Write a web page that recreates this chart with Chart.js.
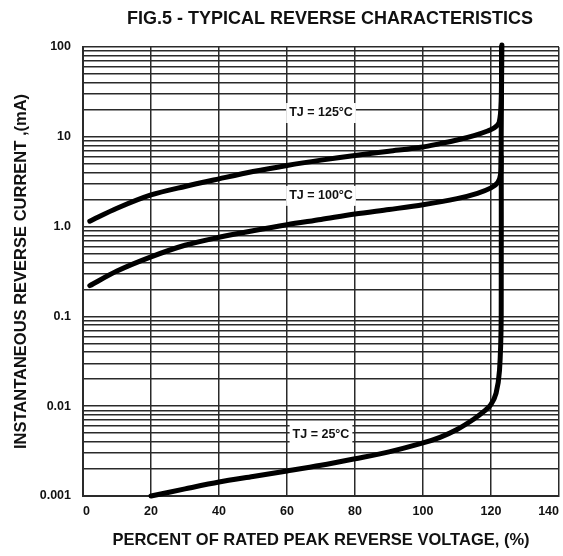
<!DOCTYPE html>
<html>
<head>
<meta charset="utf-8">
<script src="https://cdn.jsdelivr.net/npm/chart.js@4"></script>
<style>
  html, body { margin: 0; padding: 0; background: #fff; }
  #wrap { width: 563px; height: 556px; }
</style>
</head>
<body>
<div id="wrap"><canvas id="myChart" width="563" height="556"></canvas></div>
<script>
// percent of rated peak reverse voltage vs current (mA)
const t125X = [2, 10, 20, 30, 40, 50, 60, 70, 80, 90, 100, 105, 110, 115, 119, 121, 122.4, 123, 123.1];
const t125Y = [1.15, 1.6, 2.25, 2.8, 3.4, 4.1, 4.8, 5.5, 6.2, 6.9, 7.7, 8.4, 9.2, 10.3, 11.6, 12.6, 14.5, 25, 100];

const t100X = [2, 10, 20, 30, 40, 50, 60, 70, 80, 90, 100, 110, 116, 120, 122, 122.8, 123];
const t100Y = [0.22, 0.32, 0.46, 0.62, 0.76, 0.9, 1.05, 1.2, 1.38, 1.55, 1.75, 2.05, 2.35, 2.7, 3.1, 3.8, 6];

const t25X = [20, 30, 40, 50, 60, 70, 80, 90, 100, 105, 110, 115, 118, 120, 121.5, 122.5, 123, 123, 123.2];
const t25Y = [0.001, 0.0012, 0.00143, 0.00165, 0.0019, 0.0022, 0.0026, 0.0031, 0.0039, 0.0045, 0.0055, 0.0072, 0.0088, 0.0105, 0.014, 0.025, 0.1, 10, 105];

const seriesNames = ['TJ = 125°C', 'TJ = 100°C', 'TJ = 25°C'];
// where each curve label sits (data coords)
const labelX = [70, 70, 70];
const labelY = [18.4, 2.2, 0.0048];

const xTicks = [0, 20, 40, 60, 80, 100, 120, 140];
const yTickValues = [0.001, 0.01, 0.1, 1, 10, 100];
const yTickLabels = ['0.001', '0.01', '0.1', '1.0', '10', '100'];

function toPoints(xs, ys) {
    return xs.map((x, i) => ({ x: x, y: ys[i] }));
}

// minor log grid: 1..9 in every decade
const yGrid = [];
for (let d = -3; d < 2; d++) {
    for (let k = 1; k < 10; k++) {
        yGrid.push(Number((k * Math.pow(10, d)).toPrecision(3)));
    }
}
yGrid.push(100);

const FONT = '"Liberation Sans", Arial, sans-serif';

const titlePlugin = {
    id: 'figTitle',
    afterDraw(chart) {
        const ctx = chart.ctx;
        ctx.save();
        ctx.fillStyle = '#111';
        ctx.font = 'bold 18px ' + FONT;
        ctx.textAlign = 'center';
        ctx.textBaseline = 'middle';
        ctx.fillText('FIG.5 - TYPICAL REVERSE CHARACTERISTICS', 330, 19);
        ctx.restore();
    }
};

const curveLabels = {
    id: 'curveLabels',
    afterDatasetsDraw(chart) {
        const ctx = chart.ctx;
        const xs = chart.scales.x, ys = chart.scales.y;
        ctx.save();
        ctx.font = 'bold 12.5px ' + FONT;
        ctx.textAlign = 'center';
        ctx.textBaseline = 'middle';
        seriesNames.forEach((name, i) => {
            const px = xs.getPixelForValue(labelX[i]);
            const py = ys.getPixelForValue(labelY[i]);
            const w = ctx.measureText(name).width + 6;
            ctx.fillStyle = '#fff';
            ctx.fillRect(px - w / 2, py - 10, w, 20);
            ctx.fillStyle = '#111';
            ctx.fillText(name, px, py);
        });
        ctx.restore();
    }
};

const ctx = document.getElementById('myChart');

const lineStyle = {
    borderColor: '#000',
    borderWidth: 5,
    pointRadius: 0,
    tension: 0.3,
    borderCapStyle: 'round',
    fill: false,
    clip: false
};

new Chart(ctx, {
    type: 'line',
    data: {
        datasets: [
            Object.assign({ label: seriesNames[0], data: toPoints(t125X, t125Y) }, lineStyle),
            Object.assign({ label: seriesNames[1], data: toPoints(t100X, t100Y) }, lineStyle),
            Object.assign({ label: seriesNames[2], data: toPoints(t25X, t25Y) }, lineStyle)
        ]
    },
    plugins: [titlePlugin, curveLabels],
    options: {
        responsive: false,
        animation: false,
        layout: { padding: { top: 47, right: 4, left: 0, bottom: 0 } },
        plugins: {
            legend: { display: false },
            tooltip: { enabled: false }
        },
        scales: {
            x: {
                type: 'linear',
                min: 0,
                max: 140,
                afterBuildTicks: (scale) => { scale.ticks = xTicks.map(v => ({ value: v })); },
                afterFit: (scale) => {
                    scale.height = 60;
                    scale.paddingLeft = 0;
                    scale.paddingRight = 0;
                },
                ticks: {
                    color: '#111',
                    padding: 8,
                    align: 'inner',
                    font: { family: FONT, size: 12.5, weight: 'bold' },
                    maxRotation: 0
                },
                grid: { color: '#2a2a2a', lineWidth: 1.5, drawTicks: false },
                border: { color: '#2a2a2a', width: 2 },
                title: {
                    display: true,
                    text: 'PERCENT OF RATED PEAK REVERSE VOLTAGE, (%)',
                    color: '#111',
                    font: { family: FONT, size: 16.5, weight: 'bold' },
                    padding: { top: 4, bottom: 6 }
                }
            },
            y: {
                type: 'logarithmic',
                min: 0.001,
                max: 100,
                afterBuildTicks: (scale) => { scale.ticks = yGrid.map(v => ({ value: v })); },
                afterFit: (scale) => {
                    scale.width = 83;
                    scale.paddingTop = 0;
                    scale.paddingBottom = 0;
                },
                ticks: {
                    autoSkip: false,
                    color: '#111',
                    padding: 12,
                    font: { family: FONT, size: 12.5, weight: 'bold' },
                    callback: (value) => {
                        const idx = yTickValues.findIndex(v => Math.abs(v - value) / v < 1e-6);
                        return idx >= 0 ? yTickLabels[idx] : '';
                    }
                },
                grid: { color: '#2a2a2a', lineWidth: 1.5, drawTicks: false },
                border: { color: '#2a2a2a', width: 2 },
                title: {
                    display: true,
                    text: 'INSTANTANEOUS REVERSE CURRENT ,(mA)',
                    color: '#111',
                    font: { family: FONT, size: 16.5, weight: 'bold' },
                    padding: { top: 12, bottom: 0 }
                }
            }
        }
    }
});
</script>
</body>
</html>
